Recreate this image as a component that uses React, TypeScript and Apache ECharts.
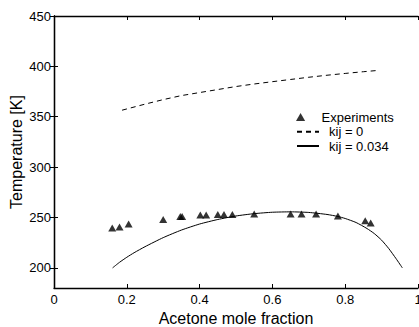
import React, { useEffect, useRef } from "react";
import * as echarts from "echarts";

// Measured liquid-liquid equilibrium temperatures
const expX = [0.16, 0.18, 0.205, 0.3, 0.347, 0.352, 0.402, 0.418, 0.45, 0.467, 0.49, 0.55, 0.65, 0.68, 0.72, 0.78, 0.855, 0.87];
const expT = [239.5, 240.5, 243.5, 248, 251, 251, 252.4, 252.4, 253, 253, 253, 253.5, 253.5, 253.5, 253.5, 251.5, 246.8, 244.5];

// Model prediction with kij = 0
const k0X = [0.187, 0.25, 0.3, 0.35, 0.4, 0.45, 0.5, 0.55, 0.6, 0.65, 0.7, 0.75, 0.8, 0.85, 0.891];
const k0T = [356.5, 362.5, 367, 371, 374, 377, 380, 382.5, 384.8, 387, 389.2, 391.2, 393, 394.7, 396];

// Model prediction with kij = 0.034
const k1X = [0.161, 0.18, 0.2, 0.22, 0.25, 0.3, 0.35, 0.4, 0.45, 0.5, 0.55, 0.6, 0.65, 0.7, 0.75, 0.78, 0.8, 0.83, 0.86, 0.88, 0.9, 0.92, 0.94, 0.957];
const k1T = [200, 205.5, 210.5, 215, 221, 230, 237.5, 243.5, 248, 251.5, 253.8, 255.2, 255.6, 255, 253, 251, 249, 245, 239, 234, 227.5, 219, 209, 200];

const yTicks = [200, 250, 300, 350, 400, 450];

const FONT = "'Liberation Sans', Arial, sans-serif";

export default function App() {
  const ref = useRef<HTMLDivElement>(null);

  useEffect(() => {
    if (!ref.current) return;
    const chart = echarts.init(ref.current, null, { renderer: "svg" });
    const pair = (xs: number[], ys: number[]) => xs.map((x, i) => [x, ys[i]]);
    const axisLine = { show: true, lineStyle: { color: "#000", width: 1.3 } };
    const tick = { show: true, inside: true, length: 4, lineStyle: { color: "#000", width: 1 } };
    const hiddenDot = { color: "rgba(0,0,0,0)", borderWidth: 0, opacity: 0 };

    // one single-entry legend per row so each row sits at its own height
    const legendRow = (top: number, item: any) => ({
      orient: "vertical",
      left: 296,
      top,
      padding: 0,
      itemWidth: 22,
      itemHeight: 8,
      symbolKeepAspect: true,
      textStyle: { color: "#000", fontSize: 13, fontFamily: FONT, lineHeight: 14, padding: [0, 0, 0, 5] },
      data: [item],
    });

    chart.setOption({
      animation: false,
      backgroundColor: "#fff",
      grid: { left: 54, right: 1, top: 16, bottom: 39, containLabel: false, outerBoundsMode: "none" },
      xAxis: [
        {
          type: "value",
          min: 0,
          max: 1,
          interval: 0.2,
          position: "bottom",
          name: "Acetone mole fraction",
          nameLocation: "middle",
          nameGap: 22,
          nameMoveOverlap: false,
          nameTextStyle: { color: "#000", fontSize: 16, fontFamily: FONT },
          axisLine,
          axisTick: tick,
          axisLabel: { color: "#000", fontSize: 13, fontFamily: FONT, margin: 5 },
          splitLine: { show: false },
        },
        {
          type: "value",
          min: 0,
          max: 1,
          interval: 0.2,
          position: "top",
          axisLine,
          axisTick: tick,
          axisLabel: { show: false },
          splitLine: { show: false },
        },
      ],
      yAxis: [
        {
          type: "value",
          min: 180,
          max: 450,
          position: "left",
          name: "Temperature [K]",
          nameLocation: "middle",
          nameGap: 30,
          nameMoveOverlap: false,
          nameTextStyle: { color: "#000", fontSize: 16, fontFamily: FONT },
          axisLine,
          axisTick: { ...tick, customValues: yTicks },
          axisLabel: { color: "#000", fontSize: 13, fontFamily: FONT, margin: 3, customValues: yTicks },
          splitLine: { show: false },
        },
        {
          type: "value",
          min: 180,
          max: 450,
          position: "right",
          axisLine,
          axisTick: { ...tick, customValues: yTicks },
          axisLabel: { show: false },
          splitLine: { show: false },
        },
      ],
      legend: [
        legendRow(110, { name: "Experiments", icon: "path://M4,0L8,7L0,7Z" }),
        legendRow(124.7, { name: "kij = 0", itemStyle: hiddenDot }),
        legendRow(139, { name: "kij = 0.034", itemStyle: hiddenDot }),
      ],
      series: [
        {
          name: "Experiments",
          type: "scatter",
          symbol: "triangle",
          symbolSize: [8, 7],
          itemStyle: { color: "#000" },
          data: pair(expX, expT),
        },
        {
          name: "kij = 0",
          type: "line",
          symbol: "none",
          showSymbol: false,
          lineStyle: { color: "#000", width: 1, type: [5, 4] },
          itemStyle: { color: "#000" },
          data: pair(k0X, k0T),
        },
        {
          name: "kij = 0.034",
          type: "line",
          symbol: "none",
          showSymbol: false,
          smooth: 0.2,
          lineStyle: { color: "#000", width: 1 },
          itemStyle: { color: "#000" },
          data: pair(k1X, k1T),
        },
      ],
    });
    return () => chart.dispose();
  }, []);

  return (
    <div
      ref={ref}
      style={{ position: "fixed", left: 0, top: 0, width: 419, height: 327, background: "#fff" }}
    />
  );
}
